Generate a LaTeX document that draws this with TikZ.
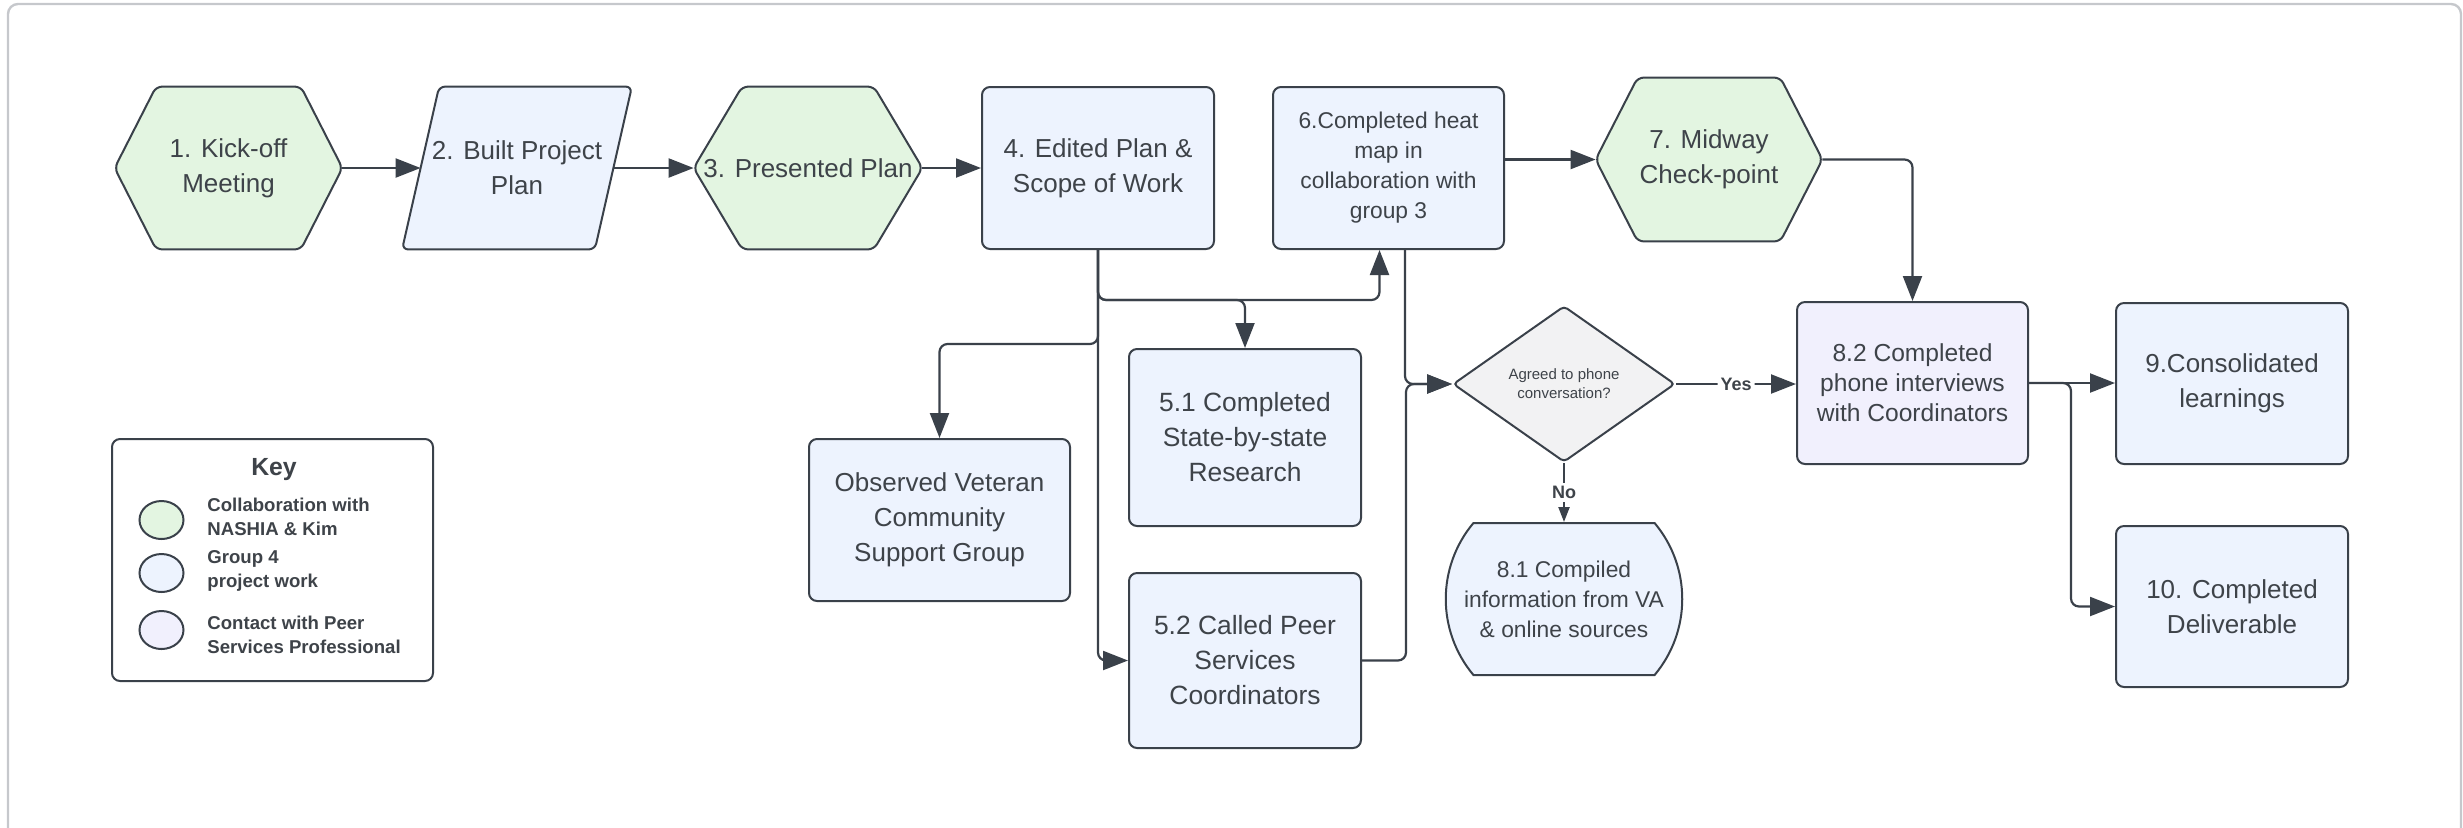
\documentclass[tikz,border=0pt]{standalone}
\usepackage{fontspec}
\setmainfont{Liberation Sans}
\usetikzlibrary{arrows.meta,shapes.geometric,shapes.misc,calc,backgrounds}
\definecolor{linec}{HTML}{3A414A}
\definecolor{textc}{HTML}{3E4349}
\definecolor{greenf}{HTML}{E3F5E1}
\definecolor{bluef}{HTML}{EDF3FE}
\definecolor{lavf}{HTML}{F1F0FD}
\definecolor{grayf}{HTML}{F2F2F3}
\definecolor{framec}{HTML}{C6C8CC}
\tikzset{
  base/.style={inner sep=0pt, align=center, text=textc, font=\fontsize{13}{17.5}\selectfont},
  rbox/.style={base, draw=linec, line width=1pt, rounded corners=4pt, fill=bluef},
  hexline/.style={draw=linec, line width=1pt, rounded corners=3pt},
  conn/.style={draw=linec, line width=1.1pt, rounded corners=4pt, -{Triangle[length=12.5pt,width=9.5pt]}},
  smallconn/.style={draw=linec, line width=1.1pt, -{Triangle[length=7.5pt,width=5.5pt]}},
  keytext/.style={anchor=west, align=left, inner sep=0pt, text=textc, font=\bfseries\fontsize{9.3}{12}\selectfont},
  keydot/.style={ellipse, draw=linec, line width=1pt, minimum width=22pt, minimum height=19pt, inner sep=0pt},
  lbl/.style={fill=white, inner sep=1.5pt, text=textc, font=\bfseries\fontsize{9}{10}\selectfont},
}
\begin{document}
\begin{tikzpicture}[x=0.5pt,y=-0.5pt]
\useasboundingbox (0,0) rectangle (2463,827);
\begin{scope}
  \clip (0,0) rectangle (2463,827);
  \draw[framec, line width=1.2pt, rounded corners=5pt] (8,4) rectangle (2461,840);
\end{scope}

% top row
\node[base, minimum width=113.5pt, minimum height=81pt] (n1) at (228.5,168) {1. Kick-off\\Meeting};
\node[base, minimum width=96pt, minimum height=81pt] (n2) at (517,168) {2. Built Project\\Plan};
\node[base, minimum width=114pt, minimum height=81pt] (n3) at (808,168) {3. Presented Plan};
\node[rbox, minimum width=116pt, minimum height=81pt] (n4) at (1098,168) {4. Edited Plan \&\\Scope of Work};
\node[rbox, minimum width=115.5pt, minimum height=81pt, font=\fontsize{11.4}{15}\selectfont] (n6) at (1388.5,168) {6.Completed heat\\map in\\collaboration with\\group 3};
\node[base, minimum width=113pt, minimum height=81.5pt] (n7) at (1709,159.5) {7. Midway\\Check-point};

\begin{pgfonlayer}{background}
  \path[hexline, fill=greenf] (n1.west) -- ($(n1.north west)+(41.5,0)$) -- ($(n1.north east)+(-41.5,0)$) -- (n1.east) -- ($(n1.south east)+(-41.5,0)$) -- ($(n1.south west)+(41.5,0)$) -- cycle;
  \path[hexline, fill=bluef] ($(n2.south west)+(-18.5,0)$) -- ($(n2.north west)+(18.5,0)$) -- ($(n2.north east)+(18.5,0)$) -- ($(n2.south east)+(-18.5,0)$) -- cycle;
  \path[hexline, fill=greenf] (n3.west) -- ($(n3.north west)+(48.5,0)$) -- ($(n3.north east)+(-48.5,0)$) -- (n3.east) -- ($(n3.south east)+(-48.5,0)$) -- ($(n3.south west)+(48.5,0)$) -- cycle;
  \path[hexline, fill=greenf] (n7.west) -- ($(n7.north west)+(42,0)$) -- ($(n7.north east)+(-42,0)$) -- (n7.east) -- ($(n7.south east)+(-42,0)$) -- ($(n7.south west)+(42,0)$) -- cycle;
\end{pgfonlayer}

% middle / lower nodes
\node[rbox, minimum width=130.5pt, minimum height=81pt] (obs) at (939.5,520) {Observed Veteran\\Community\\Support Group};
\node[rbox, minimum width=116pt, minimum height=88.5pt, font=\fontsize{13.2}{17.5}\selectfont] (n51) at (1245,437.5) {5.1 Completed\\State-by-state\\Research};
\node[rbox, minimum width=116pt, minimum height=87.5pt, font=\fontsize{13.2}{17.5}\selectfont] (n52) at (1245,660.5) {5.2 Called Peer\\Services\\Coordinators};
\node[diamond, base, draw=linec, line width=1pt, fill=grayf, rounded corners=2pt, minimum width=111pt, minimum height=78pt, font=\fontsize{7.5}{9.5}\selectfont] (dia) at (1564,384) {Agreed to phone\\conversation?};
\node[rounded rectangle, rounded rectangle arc length=80, base, draw=linec, line width=1pt, fill=bluef, minimum width=116pt, minimum height=76pt, font=\fontsize{11.4}{15}\selectfont] (n81) at (1564,599) {8.1 Compiled\\information from VA\\\& online sources};
\node[rbox, fill=lavf, minimum width=115.5pt, minimum height=81pt, font=\fontsize{12.3}{15}\selectfont] (n82) at (1912.5,383) {8.2 Completed\\phone interviews\\with Coordinators};
\node[rbox, minimum width=116pt, minimum height=80.5pt] (n9) at (2232,383.5) {9.Consolidated\\learnings};
\node[rbox, minimum width=116pt, minimum height=80.5pt] (n10) at (2232,606.5) {10. Completed\\Deliverable};

% key
\node[draw=linec, line width=1pt, rounded corners=4pt, fill=white, minimum width=160.5pt, minimum height=121pt] (key) at (272.5,560) {};
\node[text=textc, inner sep=0pt, font=\bfseries\fontsize{12.4}{14}\selectfont] (keyt) at (274,470) {Key};
\node[keydot, fill=greenf] (k1) at (161.5,520) {};
\node[keydot, fill=bluef] (k2) at (161.5,573) {};
\node[keydot, fill=lavf] (k3) at (161.5,630) {};
\node[keytext] (kt1) at (207,517) {Collaboration with\\NASHIA \& Kim};
\node[keytext] (kt2) at (207,570.5) {Group 4\\project work};
\node[keytext] (kt3) at (207,635) {Contact with Peer\\Services Professional};

% connectors
\draw[conn] (n1.east) -- (n2.west);
\draw[conn] (n2.east) -- (n3.west);
\draw[conn] (n3.east) -- (n4.west);
\draw[conn] (n6.east |- n7.west) -- (n7.west);
\draw[conn] (n7.east) -| (n82.north);
\draw[conn] (n4.south) -- ++(0,50) -| ($(n6.south)+(-9,0)$);
\draw[conn] (n4.south) -- ++(0,50) -| (n51.north);
\draw[conn] (n4.south) -- ++(0,94) -| (obs.north);
\draw[conn] (n4.south) |- (n52.west);
\draw[conn] (n52.east) -- ++(44,0) |- (dia.west);
\draw[conn] ($(n6.south)+(16.5,0)$) |- (dia.west);
\draw[conn] (dia.east) -- (dia.east -| n82.west) node[lbl, pos=0.5] (yes) {Yes};
\draw[smallconn] (dia.south) -- (n81.north) node[lbl, pos=0.5] (no) {No};
\draw[conn] (n82.east) -- (n82.east -| n9.west);
\draw[conn] (n82.east) -- ++(42,0) |- (n10.west);
\end{tikzpicture}
\end{document}
